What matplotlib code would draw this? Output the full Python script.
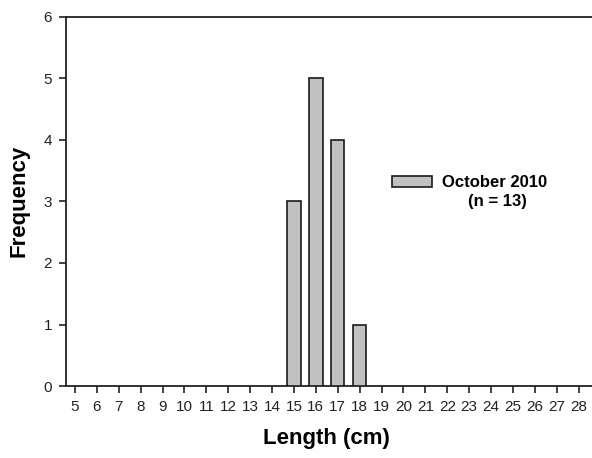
import matplotlib
matplotlib.use("Agg")
import matplotlib.pyplot as plt

lengths = [15, 16, 17, 18]
frequency = [3, 5, 4, 1]
x_ticks = list(range(5, 29))
y_ticks = list(range(0, 7))
series_label = "October 2010"
sample_label = "(n = 13)"

plt.rcParams['font.family'] = ['Liberation Sans', 'DejaVu Sans']

fig = plt.figure(figsize=(5.92, 4.58), dpi=100)
ax = fig.add_axes([66/592, 1-386/458, (592-66)/592, (386-17)/458])

ax.bar(lengths, frequency, width=0.61, color='#c0c0c0', edgecolor='#1a1a1a',
       linewidth=1.2, label=series_label, zorder=3)

ax.set_xlim(4.59, 28.61)
ax.set_ylim(0, 6)
ax.set_xticks(x_ticks)
ax.set_yticks(y_ticks)
ax.tick_params(axis='both', direction='out', length=5, width=1.2, labelsize=11,
               colors='#222222', pad=5)
for s in ['left', 'bottom', 'top']:
    ax.spines[s].set_linewidth(1.3)
    ax.spines[s].set_color('#222222')
ax.spines['right'].set_color('#dddddd')
ax.spines['right'].set_linewidth(0.8)

ax.set_xlabel("Length (cm)", fontsize=16, fontweight='bold')
ax.xaxis.set_label_coords((326-66)/526, -(428-386)/369)
ax.set_ylabel("Frequency", fontsize=16, fontweight='bold')
ax.yaxis.set_label_coords(-(66-30)/526, (386-201)/369)

leg = ax.legend(loc='center left', bbox_to_anchor=(0.62, (386-183)/369), frameon=False,
                borderpad=0, borderaxespad=0,
                handlelength=2.4, handleheight=0.6, handletextpad=0.6,
                prop={'weight': 'bold', 'size': 12})
ax.text((497-66)/526, (386-202)/369, sample_label, transform=ax.transAxes,
        ha='center', va='center', fontsize=12, fontweight='bold')

fig.savefig("out.png", dpi=100)
